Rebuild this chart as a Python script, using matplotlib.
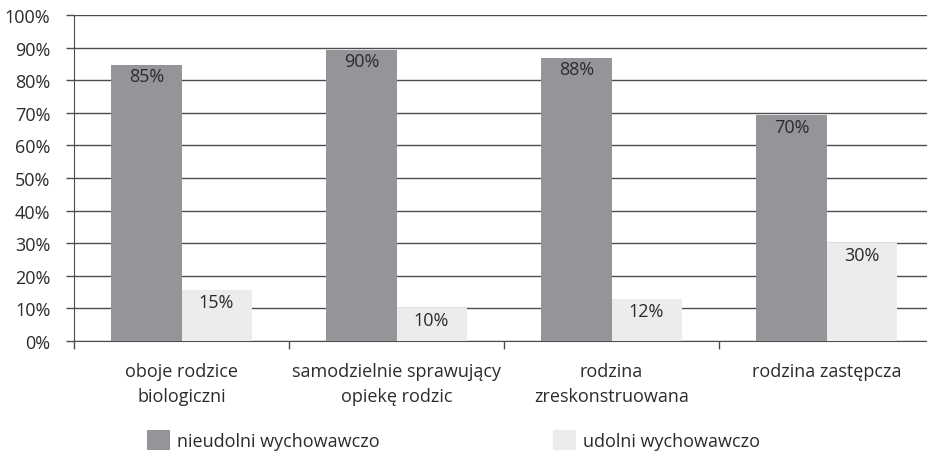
import matplotlib
matplotlib.use("Agg")
import matplotlib.pyplot as plt
import numpy as np
from matplotlib.ticker import FixedLocator

plt.rcParams['font.family'] = ['Open Sans', 'DejaVu Sans']

categories = ["oboje rodzice\nbiologiczni", "samodzielnie sprawujący\nopiekę rodzic",
              "rodzina\nzreskonstruowana", "rodzina zastępcza"]
series_names = ["nieudolni wychowawczo", "udolni wychowawczo"]
nieudolni = [84.8, 89.4, 86.9, 69.4]
udolni = [15.6, 10.1, 12.9, 30.1]
nieudolni_labels = ["85%", "90%", "88%", "70%"]
udolni_labels = ["15%", "10%", "12%", "30%"]
yticks = [0, 10, 20, 30, 40, 50, 60, 70, 80, 90, 100]
ytick_labels = ["0%", "10%", "20%", "30%", "40%", "50%", "60%", "70%", "80%", "90%", "100%"]

dark = "#939598"
light = "#ececec"
text_col = "#2b2b2b"
grid_col = "#4d4d4d"
fs = 13

fig = plt.figure(figsize=(9.27, 4.52), dpi=100)
ax = fig.add_axes([74/927, 110/452, (934-74)/927, 326/452])

x = np.arange(len(categories))
w = 0.326
b1 = ax.bar(x - w/2, nieudolni, w, color=dark, zorder=3, label=series_names[0])
b2 = ax.bar(x + w/2, udolni, w, color=light, zorder=3, label=series_names[1])

for bars, labs in ((b1, nieudolni_labels), (b2, udolni_labels)):
    for rect, lab in zip(bars, labs):
        ax.annotate(lab, (rect.get_x() + rect.get_width()/2, rect.get_height()),
                    xytext=(0, -2), textcoords="offset points", ha="center", va="top",
                    fontsize=fs, color=text_col, zorder=4)

ax.set_ylim(0, 100)
ax.set_xlim(-0.5, 3.5)
ax.set_yticks(yticks)
ax.set_yticklabels(ytick_labels, fontsize=fs, color=text_col)
ax.yaxis.grid(True, color=grid_col, linewidth=1.0, zorder=0)
ax.set_axisbelow(True)
ax.tick_params(axis='y', length=6, width=1, color=grid_col, pad=11)

ax.set_xticks(x)
ax.set_xticklabels(categories, fontsize=fs, color=text_col, linespacing=1.5)
ax.tick_params(axis='x', which='major', length=0, pad=15)
ax.xaxis.set_minor_locator(FixedLocator([-0.5, 0.5, 1.5, 2.5, 3.5]))
ax.tick_params(axis='x', which='minor', length=6, width=1, color=grid_col, direction='out')

for s in ['top', 'right']:
    ax.spines[s].set_visible(False)
ax.spines['left'].set_color(grid_col)
ax.spines['bottom'].set_color(grid_col)

fig.legend(handles=[b1, b2], labels=series_names, loc='center left',
           bbox_to_anchor=(147/927, 1 - 441/452), ncol=2, frameon=False,
           fontsize=fs, handlelength=1.3, handleheight=1.3, handletextpad=0.35,
           columnspacing=9.6, labelcolor=text_col, borderaxespad=0, borderpad=0)

fig.savefig("out.png", dpi=100)
